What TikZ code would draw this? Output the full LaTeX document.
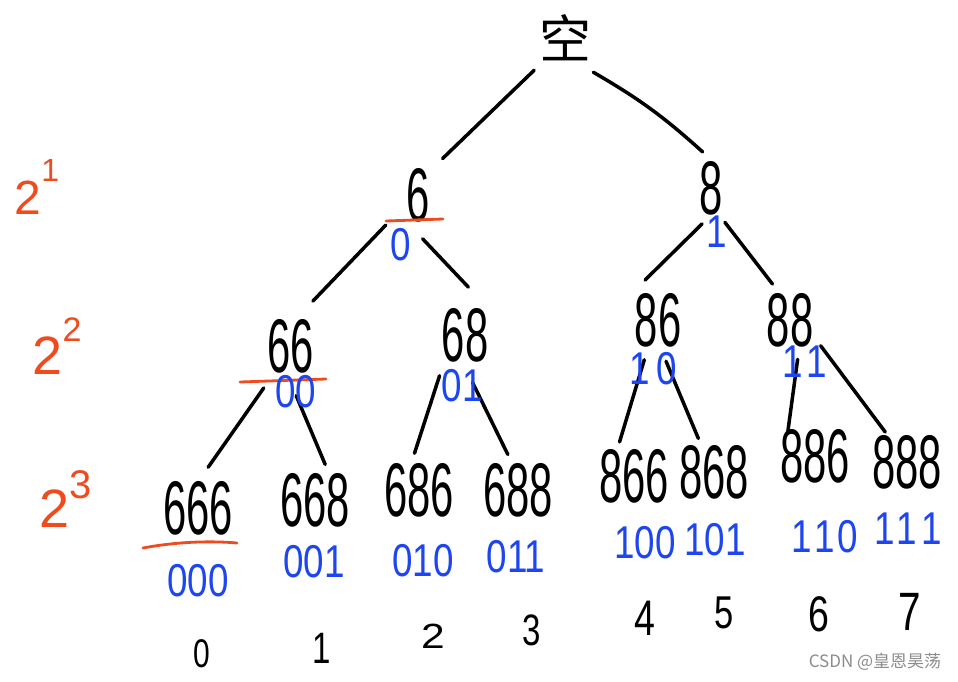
\documentclass[tikz,border=0pt]{standalone}
\usepackage{fontspec}
\usepackage{graphicx}
\setmainfont{Liberation Sans}
\newfontfamily\cjk{Noto Sans CJK SC}
\definecolor{hwblue}{RGB}{30,70,240}
\definecolor{hwred}{RGB}{240,75,30}
\newcommand\ctrbox[1]{\makebox[0pt]{\raisebox{-.5\height}[0pt][0pt]{#1}}}
\newcommand\hwbig[1]{\ctrbox{\scalebox{0.55}[1]{\fontsize{76}{76}\selectfont #1}}}
\newcommand\hwbit[1]{\ctrbox{\scalebox{0.8}[1]{\fontsize{46}{46}\selectfont #1}}}
\newcommand\hwnum[2][50]{\ctrbox{\scalebox{0.75}[1]{\fontsize{#1}{#1}\selectfont #2}}}
\begin{document}
\begin{tikzpicture}[x=1pt,y=-1pt,
  tn/.style={circle,inner sep=0pt,outer sep=0pt,minimum size=#1},
  ed/.style={line width=3.5pt,line cap=round,black},
  ul/.style={line width=2.8pt,line cap=round,hwred},
  bit/.style={inner sep=0pt,text=hwblue},
  num/.style={inner sep=0pt,text=black},
  pw/.style={inner sep=0pt,text=hwred}]
\useasboundingbox (0,0) rectangle (958,681);
\fill[white] (0,0) rectangle (958,681);

% tree nodes
\node[tn=92pt] (root) at (565,36) {\ctrbox{\cjk\fontsize{52}{52}\selectfont 空}};
\node[tn=88pt] (n6) at (418,195) {\hwbig{6}};
\node[tn=74pt] (n8) at (711,188) {\hwbig{8}};
\node[tn=100pt] (n66) at (291,346) {\hwbig{66}};
\node[tn=96pt] (n68) at (465,335) {\hwbig{68}};
\node[tn=84pt] (n86) at (658,320) {\hwbig{86}};
\node[tn=80pt] (n88) at (790,320) {\hwbig{88}};
\node[tn=84pt] (l666) at (198,508) {\hwbig{666}};
\node[tn=74pt] (l668) at (315,500) {\hwbig{668}};
\node[tn=74pt] (l686) at (419,490) {\hwbig{686}};
\node[tn=74pt] (l688) at (518,490) {\hwbig{688}};
\node[tn=74pt] (l866) at (634,476) {\hwbig{866}};
\node[tn=74pt] (l868) at (714,472) {\hwbig{868}};
\node[tn=74pt] (l886) at (815,456) {\hwbig{886}};
\node[tn=74pt] (l888) at (907,462) {\hwbig{888}};

% edges
\draw[ed] (root.228) -- (n6.56);
\draw[ed] (root.308) to[bend left=6] (n8.103);
\draw[ed] (n6.223) -- (n66.64);
\draw[ed] (n6.276) -- (n68.86);
\draw[ed] (n8.256) -- (n86.108);
\draw[ed] (n8.292) -- (n88.116);
\draw[ed] (n66.237) -- (l666.76);
\draw[ed] (n66.276) -- (l668.74);
\draw[ed] (n68.238) -- (l686.97);
\draw[ed] (n68.279) -- (l688.106);
\draw[ed] (n86.251) -- (l866.113);
\draw[ed] (n86.281) -- (l868.115);
\draw[ed] (n88.281) -- (l886.137);
\draw[ed] (n88.320) -- (l888.126);

% red underlines
\draw[ul] (386,221) -- (443,219);
\draw[ul] (240,382) -- (326,379);
\draw[ul] (143,548) .. controls (180,541) and (215,541) .. (237,543);

% blue codes
\node[bit] (b6) at (401,244) {\hwbit{0}};
\node[bit] (b8) at (717,232) {\hwbit{1}};
\node[bit] (b66) at (296,391) {\hwbit{00}};
\node[bit] (b68) at (462,385) {\hwbit{01}};
\node[bit] (b86) at (653,368) {\hwbit{1\hspace{8pt}0}};
\node[bit] (b88) at (805,362) {\hwbit{1\hspace{4pt}1}};
\node[bit] (b666) at (198,580) {\hwbit{000}};
\node[bit] (b668) at (314,561) {\hwbit{001}};
\node[bit] (b686) at (423,560) {\hwbit{010}};
\node[bit] (b688) at (516,556) {\hwbit{011}};
\node[bit] (b866) at (645,542) {\hwbit{100}};
\node[bit] (b868) at (715,539) {\hwbit{101}};
\node[bit] (b886) at (825,536) {\hwbit{1\hspace{3pt}1\hspace{3pt}0}};
\node[bit] (b888) at (908,529) {\hwbit{1\hspace{2pt}1\hspace{6pt}1}};

% indices
\node[num] (d0) at (202,654) {\hwnum[40]{0}};
\node[num] (d1) at (322,648) {\hwnum[44]{1}};
\node[num] (d2) at (433,636) {\ctrbox{\scalebox{0.85}[0.7]{\fontsize{50}{50}\selectfont 2}}};
\node[num] (d3) at (532,630) {\hwnum[44]{3}};
\node[num] (d4) at (645,618) {\hwnum{4}};
\node[num] (d5) at (724,613) {\hwnum[46]{5}};
\node[num] (d6) at (819,614) {\hwnum{6}};
\node[num] (d7) at (910,612) {\hwnum[54]{7}};

% powers of two
\node[pw] (p1) at (37,187) {\ctrbox{\fontsize{48}{48}\selectfont 2\raisebox{0.7em}{\fontsize{32}{32}\selectfont 1}}};
\node[pw] (p2) at (57,346) {\ctrbox{\fontsize{54}{54}\selectfont 2\raisebox{0.62em}{\fontsize{34}{34}\selectfont 2}}};
\node[pw] (p3) at (66,499) {\ctrbox{\fontsize{54}{54}\selectfont 2\raisebox{0.55em}{\fontsize{40}{40}\selectfont 3}}};

% watermark
\node[inner sep=0pt,text=black!45] (wm) at (875,662) {\cjk\fontsize{17}{17}\selectfont CSDN @皇恩昊荡};
\end{tikzpicture}
\end{document}
